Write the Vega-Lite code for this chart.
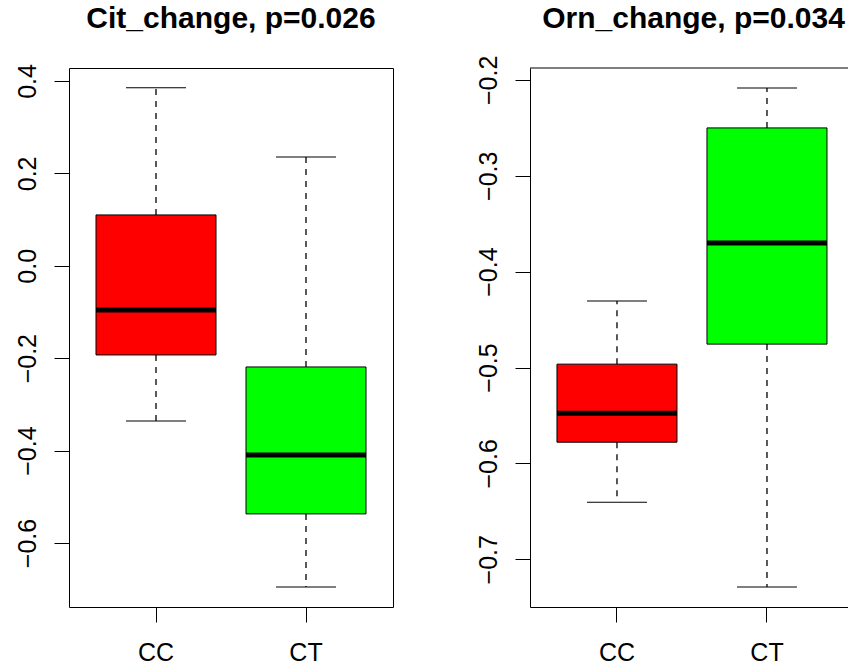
{
  "$schema": "https://vega.github.io/schema/vega-lite/v6.json",
  "background": "white",
  "padding": {"left": 14, "top": 3, "right": 0, "bottom": 0},
  "spacing": 81,
  "config": {
    "font": "Liberation Sans",
    "title": {"font": "Liberation Sans", "fontSize": 30, "fontWeight": "bold", "color": "black", "anchor": "middle", "offset": 30, "frame": "group"},
    "axis": {
      "labelFont": "Liberation Sans", "labelFontSize": 25, "labelColor": "black",
      "tickColor": "black", "tickSize": 15, "tickWidth": 1, "grid": false, "title": null,
      "domainColor": "black", "domainWidth": 1
    }
  },
  "datasets": {
    "cit": [
      {"group": "CC", "lower": -0.336, "q1": -0.193, "median": -0.096, "q3": 0.110, "upper": 0.385},
      {"group": "CT", "lower": -0.695, "q1": -0.537, "median": -0.4095, "q3": -0.219, "upper": 0.2355}
    ],
    "orn": [
      {"group": "CC", "lower": -0.6405, "q1": -0.5779, "median": -0.5476, "q3": -0.4965, "upper": -0.4307},
      {"group": "CT", "lower": -0.729, "q1": -0.4756, "median": -0.3701, "q3": -0.2501, "upper": -0.2084}
    ],
    "ornTop": [{"top": -0.1876}]
  },
  "hconcat": [
    {
      "title": "Cit_change, p=0.026",
      "width": 324, "height": 539,
      "view": {"stroke": "black", "strokeWidth": 1},
      "data": {"name": "cit"},
      "layer": [
        {"mark": {"type": "rule", "strokeDash": [6, 6], "color": "black", "strokeWidth": 1.3, "opacity": 1},
         "encoding": {
          "x": {"field": "group", "type": "nominal",
            "scale": {"domain": ["CC", "CT"], "paddingInner": 0.2, "paddingOuter": 0.18},
            "axis": {"labelAngle": 0, "domain": false, "labelPadding": 18, "labelBaseline": "top"}},
          "y": {"field": "q3", "type": "quantitative",
            "scale": {"domain": [-0.7385, 0.428], "nice": false, "zero": false},
            "axis": {"values": [-0.6, -0.4, -0.2, 0, 0.2, 0.4], "format": ".1f", "labelAngle": -90, "labelAlign": "center", "labelBaseline": "bottom", "labelPadding": 14, "domain": false, "minExtent": 54, "maxExtent": 54}},
          "y2": {"field": "upper"}}},
        {"mark": {"type": "rule", "strokeDash": [6, 6], "color": "black", "strokeWidth": 1.3, "opacity": 1},
         "encoding": {"x": {"field": "group", "type": "nominal"}, "y": {"field": "q1", "type": "quantitative"}, "y2": {"field": "lower"}}},
        {"mark": {"type": "tick", "color": "black", "size": 60, "thickness": 1, "opacity": 1},
         "encoding": {"x": {"field": "group", "type": "nominal"}, "y": {"field": "upper", "type": "quantitative"}}},
        {"mark": {"type": "tick", "color": "black", "size": 60, "thickness": 1, "opacity": 1},
         "encoding": {"x": {"field": "group", "type": "nominal"}, "y": {"field": "lower", "type": "quantitative"}}},
        {"mark": {"type": "bar", "stroke": "black", "strokeWidth": 1, "opacity": 1},
         "encoding": {"x": {"field": "group", "type": "nominal"}, "y": {"field": "q1", "type": "quantitative"}, "y2": {"field": "q3"},
           "color": {"field": "group", "type": "nominal", "scale": {"domain": ["CC", "CT"], "range": ["#FF0000", "#00FF00"]}, "legend": null}}},
        {"mark": {"type": "tick", "color": "black", "size": 120, "thickness": 5, "opacity": 1},
         "encoding": {"x": {"field": "group", "type": "nominal"}, "y": {"field": "median", "type": "quantitative"}}}
      ]
    },
    {
      "title": {"text": "Orn_change, p=0.034", "dx": 3, "dy": 9},
      "width": 321, "height": 539,
      "view": {"stroke": null},
      "data": {"name": "orn"},
      "layer": [
        {"mark": {"type": "rule", "strokeDash": [6, 6], "color": "black", "strokeWidth": 1.3, "opacity": 1},
         "encoding": {
          "x": {"field": "group", "type": "nominal",
            "scale": {"domain": ["CC", "CT"], "paddingInner": 0.2, "paddingOuter": 0.17, "align": 0.529},
            "axis": {"labelAngle": 0, "domain": true, "labelPadding": 18, "labelBaseline": "top"}},
          "y": {"field": "q3", "type": "quantitative",
            "scale": {"domain": [-0.7498, -0.1876], "nice": false, "zero": false},
            "axis": {"values": [-0.7, -0.6, -0.5, -0.4, -0.3, -0.2], "format": ".1f", "labelAngle": -90, "labelAlign": "center", "labelBaseline": "bottom", "labelPadding": 14, "domain": true, "minExtent": 54, "maxExtent": 54}},
          "y2": {"field": "upper"}}},
        {"mark": {"type": "rule", "strokeDash": [6, 6], "color": "black", "strokeWidth": 1.3, "opacity": 1},
         "encoding": {"x": {"field": "group", "type": "nominal"}, "y": {"field": "q1", "type": "quantitative"}, "y2": {"field": "lower"}}},
        {"mark": {"type": "tick", "color": "black", "size": 60, "thickness": 1, "opacity": 1},
         "encoding": {"x": {"field": "group", "type": "nominal"}, "y": {"field": "upper", "type": "quantitative"}}},
        {"mark": {"type": "tick", "color": "black", "size": 60, "thickness": 1, "opacity": 1},
         "encoding": {"x": {"field": "group", "type": "nominal"}, "y": {"field": "lower", "type": "quantitative"}}},
        {"mark": {"type": "bar", "stroke": "black", "strokeWidth": 1, "opacity": 1},
         "encoding": {"x": {"field": "group", "type": "nominal"}, "y": {"field": "q1", "type": "quantitative"}, "y2": {"field": "q3"},
           "color": {"field": "group", "type": "nominal", "scale": {"domain": ["CC", "CT"], "range": ["#FF0000", "#00FF00"]}, "legend": null}}},
        {"mark": {"type": "tick", "color": "black", "size": 120, "thickness": 5, "opacity": 1},
         "encoding": {"x": {"field": "group", "type": "nominal"}, "y": {"field": "median", "type": "quantitative"}}},
        {"data": {"name": "ornTop"},
         "mark": {"type": "rule", "color": "black", "strokeWidth": 1, "opacity": 1},
         "encoding": {"y": {"field": "top", "type": "quantitative"}}}
      ]
    }
  ]
}
